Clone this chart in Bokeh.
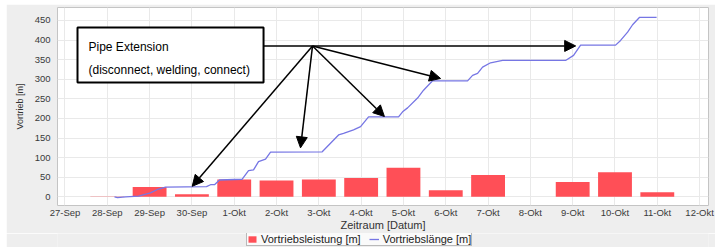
import pandas as pd
from bokeh.plotting import figure
from bokeh.models import (Range1d, FixedTicker, Legend, LegendItem, BoxAnnotation,
                          Label, Arrow, NormalHead, Spacer)
from bokeh.layouts import column, row
from bokeh.embed import file_html
from bokeh.resources import INLINE

START = pd.Timestamp("2010-09-27 00:00")

tick_labels = ["27-Sep", "28-Sep", "29-Sep", "30-Sep", "1-Okt", "2-Okt", "3-Okt", "4-Okt",
               "5-Okt", "6-Okt", "7-Okt", "8-Okt", "9-Okt", "10-Okt", "11-Okt", "12-Okt"]
y_ticks = [0, 50, 100, 150, 200, 250, 300, 350, 400, 450]

# daily advance (Vortriebsleistung)
bar_dates = ["2010-09-28", "2010-09-29", "2010-09-30", "2010-10-01", "2010-10-02",
             "2010-10-03", "2010-10-04", "2010-10-05", "2010-10-06", "2010-10-07",
             "2010-10-09", "2010-10-10", "2010-10-11"]
bar_values = [1, 25, 7, 44, 42, 44, 48, 74, 17, 56, 38, 63, 12]

# cumulative length (Vortriebslänge)
length_times = ["2010-09-28 04:05", "2010-09-28 05:47", "2010-09-28 10:24", "2010-09-28 17:43",
                "2010-09-29 00:30", "2010-09-29 05:02", "2010-09-29 09:01", "2010-09-30 08:17",
                "2010-09-30 10:34", "2010-09-30 12:49", "2010-09-30 15:39", "2010-10-01 04:32",
                "2010-10-01 08:07", "2010-10-01 10:57", "2010-10-01 13:47", "2010-10-01 17:46",
                "2010-10-01 20:36", "2010-10-03 01:55", "2010-10-03 11:11", "2010-10-03 14:01",
                "2010-10-03 19:41", "2010-10-03 23:40", "2010-10-04 04:12", "2010-10-04 21:13",
                "2010-10-04 23:30", "2010-10-05 02:20", "2010-10-05 08:00", "2010-10-05 11:24",
                "2010-10-05 16:31", "2010-10-06 12:22", "2010-10-06 15:13", "2010-10-06 18:03",
                "2010-10-06 20:53", "2010-10-07 01:25", "2010-10-07 08:14", "2010-10-08 19:58",
                "2010-10-09 00:30", "2010-10-09 04:29", "2010-10-10 00:20", "2010-10-10 03:10",
                "2010-10-10 07:09", "2010-10-10 09:59", "2010-10-10 13:58", "2010-10-10 23:36"]
length_values = [0, -2, 0, 2, 10, 20, 25, 26, 31, 31, 43, 45, 67, 69, 90, 96, 114, 115,
                 158, 162, 171, 179, 204, 204, 217, 227, 252, 272, 296, 296, 310, 315, 331,
                 342, 348, 348, 361, 387, 387, 399, 420, 439, 458, 458]

series_names = ["Vortriebsleistung [m]", "Vortriebslänge [m]"]


def day(t):
    return (pd.Timestamp(t) - START) / pd.Timedelta(days=1)


# annotation (box + arrows) anchors in data space
note_box = dict(left="2010-09-27 07:06", right="2010-10-01 16:38", top=432, bottom=292)
note_text = [("Pipe Extension", 381), ("(disconnect, welding, connect)", 323)]
note_text_x = "2010-09-27 13:21"
arrow_origin = ("2010-10-02 20:25", 385)
arrow_tips = [("2010-09-30 00:10", 27), ("2010-10-02 13:36", 125),
              ("2010-10-04 13:12", 205), ("2010-10-05 21:03", 302)]
horiz_tip = ("2010-10-09 01:41", 385)

FONT = "Liberation Sans"
BG = "#eeeeee"
BAR_COLOR = "#ff4f57"
LINE_COLOR = "#7676e4"

p = figure(width=709, height=229, output_backend="svg", toolbar_location=None,
           x_range=Range1d(-0.177, 15.21), y_range=Range1d(-22, 483),
           min_border_left=51, min_border_right=7, min_border_top=3, min_border_bottom=27)
p.border_fill_color = BG
p.background_fill_color = "white"
p.outline_line_color = "#c4c4c4"

p.vbar(x=[day(d) for d in bar_dates], top=bar_values, bottom=0, width=0.8,
       fill_color=BAR_COLOR, line_color=None)
p.line(x=[day(t) for t in length_times], y=length_values,
       line_color=LINE_COLOR, line_width=1.3)

p.xaxis.ticker = FixedTicker(ticks=list(range(len(tick_labels))))
p.xaxis.major_label_overrides = {i: lbl for i, lbl in enumerate(tick_labels)}
p.yaxis.ticker = FixedTicker(ticks=y_ticks)
p.xgrid.ticker = FixedTicker(ticks=list(range(len(tick_labels))))
p.ygrid.ticker = FixedTicker(ticks=y_ticks)
p.xgrid.grid_line_color = "#e9e9e9"
p.ygrid.grid_line_color = "#e9e9e9"

for ax in (p.xaxis, p.yaxis):
    ax.axis_line_color = None
    ax.major_tick_line_color = None
    ax.minor_tick_line_color = None
    ax.major_tick_out = 0
    ax.major_tick_in = 0
    ax.minor_tick_out = 0
    ax.minor_tick_in = 0
    ax.major_label_text_font = FONT
    ax.major_label_text_font_size = "9.5px"
    ax.major_label_text_color = "#3a3a3a"
    ax.axis_label_text_font = FONT
    ax.axis_label_text_font_style = "normal"
    ax.axis_label_text_color = "#333333"

p.xaxis.major_label_standoff = 1
p.yaxis.major_label_standoff = 7
p.xaxis.axis_label = "Zeitraum [Datum]"
p.xaxis.axis_label_text_font_size = "11px"
p.xaxis.axis_label_standoff = -2
p.yaxis.axis_label = "Vortrieb [m]"
p.yaxis.axis_label_text_font_size = "9px"
p.yaxis.axis_label_standoff = 7

# annotation box and text
p.add_layout(BoxAnnotation(left=day(note_box["left"]), right=day(note_box["right"]),
                           top=note_box["top"], bottom=note_box["bottom"],
                           fill_color="white", fill_alpha=1.0,
                           line_color="black", line_width=2, line_alpha=1.0))
for txt, yv in note_text:
    p.add_layout(Label(x=day(note_text_x), y=yv, text=txt, text_font=FONT,
                       text_font_size="12px", text_color="black", text_baseline="middle"))

ox, oy = day(arrow_origin[0]), arrow_origin[1]
for tx, ty in arrow_tips:
    p.add_layout(Arrow(end=NormalHead(size=11, fill_color="black", line_color="black"),
                       x_start=ox, y_start=oy, x_end=day(tx), y_end=ty,
                       line_color="black", line_width=1.5))
p.add_layout(Arrow(end=NormalHead(size=11, fill_color="black", line_color="black"),
                   x_start=day(note_box["right"]), y_start=horiz_tip[1],
                   x_end=day(horiz_tip[0]), y_end=horiz_tip[1],
                   line_color="black", line_width=1.5))

# legend strip (separate small figure below the chart; its frame aligns with the chart's)
pl = figure(width=709, height=14, output_backend="svg", toolbar_location=None,
            x_axis_type=None, y_axis_type=None, x_range=Range1d(0, 1), y_range=Range1d(0, 1),
            min_border=0)
pl.border_fill_color = BG
pl.background_fill_color = BG
pl.outline_line_color = None
# legend-only swatches, placed outside the strip's visible range
leg_bar = pl.vbar(x=[-5], top=[-4], bottom=[-5], width=0.1, fill_color=BAR_COLOR, line_color=None)
leg_line = pl.line(x=[-6, -5], y=[-5, -5], line_color=LINE_COLOR, line_width=1.3)
legend = Legend(items=[LegendItem(label=series_names[0], renderers=[leg_bar]),
                       LegendItem(label=series_names[1], renderers=[leg_line])],
                orientation="horizontal", location=(189, 1),
                label_text_font=FONT, label_text_font_size="11px", label_text_color="#222222",
                glyph_width=10, glyph_height=8, label_standoff=4, spacing=8,
                padding=0, margin=0, label_height=10,
                border_line_color="#777777", border_line_width=1,
                background_fill_color="#fafafa", background_fill_alpha=1.0)
pl.add_layout(legend, "center")

layout = row(Spacer(width=6), column(Spacer(height=4), p, pl))
open("out.html", "w").write(file_html(layout, INLINE))
